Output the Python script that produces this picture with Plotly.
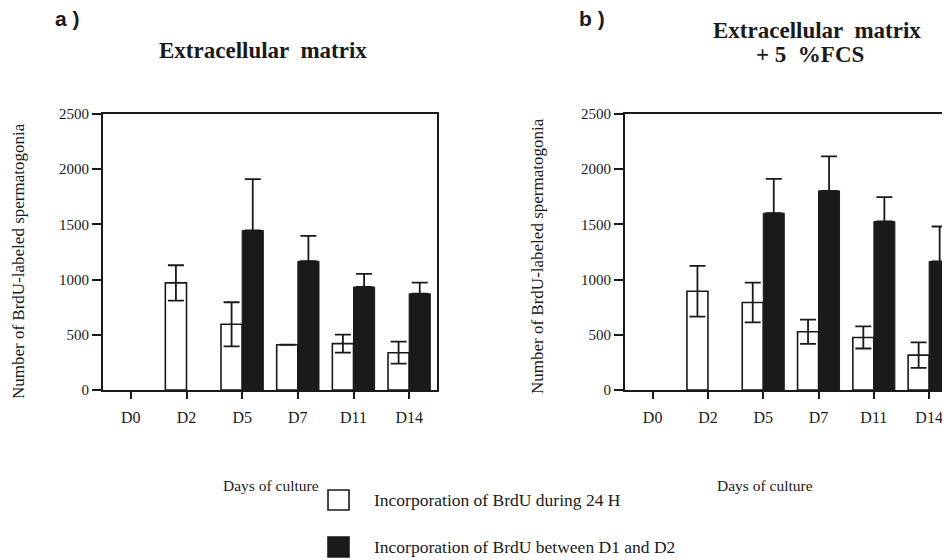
import plotly.graph_objects as go

days = ["D0", "D2", "D5", "D7", "D11", "D14"]

# Panel a) Extracellular matrix
a_24h = [None, 970, 595, 410, 420, 338]
a_24h_err = [None, 160, 200, None, 82, 100]
a_d1d2 = [None, None, 1445, 1166, 933, 872]
a_d1d2_err = [None, None, 465, 230, 118, 100]

# Panel b) Extracellular matrix + 5 %FCS
b_24h = [None, 894, 792, 527, 476, 316]
b_24h_err = [None, 230, 180, 110, 100, 115]
b_d1d2 = [None, None, 1602, 1804, 1527, 1165]
b_d1d2_err = [None, None, 311, 313, 220, 316]

yticks = [0, 500, 1000, 1500, 2000, 2500]

W, H = 950, 560
# effective drawing box observed in the rendering pipeline
BX0, BW, BY0, BH = 8, 950, 16, 544

def fx(x):
    return (x - BX0) / BW

def fy(y):
    return 1 - (y - BY0) / BH

SERIF = "Liberation Serif"
SANS = "Liberation Sans"
INK = "#1a1a1a"

fig = go.Figure()

def add_panel(xa, ya, white, werr, black, berr):
    fig.add_trace(go.Bar(
        x=days, y=white, xaxis=xa, yaxis=ya,
        marker=dict(color="white", line=dict(color=INK, width=1.6)),
        error_y=dict(type="data", array=werr, symmetric=True,
                     color=INK, thickness=1.8, width=8),
        showlegend=False, offsetgroup="w"))
    fig.add_trace(go.Bar(
        x=days, y=black, xaxis=xa, yaxis=ya,
        marker=dict(color=INK, line=dict(color=INK, width=1)),
        error_y=dict(type="data", array=berr,
                     arrayminus=[0 if v is not None else None for v in berr],
                     symmetric=False, color=INK, thickness=1.8, width=8),
        showlegend=False, offsetgroup="b"))

add_panel("x", "y", a_24h, a_24h_err, a_d1d2, a_d1d2_err)
add_panel("x2", "y2", b_24h, b_24h_err, b_d1d2, b_d1d2_err)

ydom = [fy(390), fy(114)]

common_x = dict(type="category", categoryorder="array", categoryarray=days,
                showgrid=False, zeroline=False, showline=True, linecolor=INK,
                linewidth=2, ticks="outside", ticklen=7, tickwidth=1.6,
                tickcolor=INK, tickfont=dict(family=SERIF, size=16, color=INK),
                ticklabelstandoff=5, fixedrange=True)
common_y = dict(range=[0, 2500], tickvals=yticks, showgrid=False, zeroline=False,
                showline=True, linecolor=INK, linewidth=2, ticks="outside",
                ticklen=9, tickwidth=1.6, tickcolor=INK,
                tickfont=dict(family=SERIF, size=15, color=INK), fixedrange=True)

right_dom_end = 1.0
right_end = -0.5 + (BX0 + BW * right_dom_end - 625) / 55.3

fig.update_layout(
    width=W, height=H,
    margin=dict(l=0, r=0, t=0, b=0),
    paper_bgcolor="white", plot_bgcolor="white",
    barmode="group", bargap=0.24, bargroupgap=0,
    xaxis=dict(domain=[fx(103), fx(437)], range=[-0.5, 5.5], mirror=True,
               anchor="y", **common_x),
    yaxis=dict(domain=ydom, mirror=True, anchor="x", **common_y),
    xaxis2=dict(domain=[fx(625), right_dom_end], range=[-0.5, right_end],
                mirror=True, anchor="y2", **common_x),
    yaxis2=dict(domain=ydom, mirror=False, anchor="x2", **common_y),
)

def ann(text, x, y, size, family=SERIF, xanchor="center", textangle=0, align="center"):
    fig.add_annotation(text=text, x=fx(x), y=fy(y), xref="paper", yref="paper",
                       showarrow=False, xanchor=xanchor, yanchor="middle",
                       textangle=textangle, align=align,
                       font=dict(family=family, size=size, color=INK))

ann("<b>a )</b>", 53, 19, 21, family=SANS, xanchor="left")
ann("<b>b )</b>", 577, 19, 21, family=SANS, xanchor="left")
ann("<b>Extracellular  matrix</b>", 263, 50, 23)
ann("<b>Extracellular  matrix</b>", 817, 30, 23)
ann("<b>+ 5  %FCS</b>", 810, 55, 23)
ann("Days of culture", 271, 485, 15.5)
ann("Days of culture", 765, 485, 15.5)
ann("Number of BrdU-labeled spermatogonia", 18, 261, 17, textangle=-90)
ann("Number of BrdU-labeled spermatogonia", 537, 256, 17, textangle=-90)

# legend keys
for (y0, fill) in [(490, "white"), (537, INK)]:
    fig.add_shape(type="rect", xref="paper", yref="paper",
                  x0=fx(328), x1=fx(349), y0=fy(y0 + 20), y1=fy(y0),
                  line=dict(color=INK, width=1.6), fillcolor=fill)
ann("Incorporation of BrdU during 24 H", 372, 500, 17.5, xanchor="left")
ann("Incorporation of BrdU between D1 and D2", 372, 547, 17.5, xanchor="left")

fig.write_html("out.html")
